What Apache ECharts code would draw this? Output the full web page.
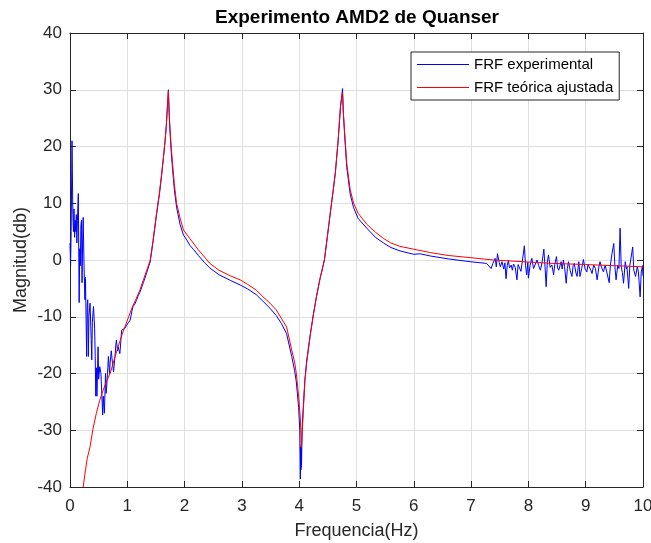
<!DOCTYPE html>
<html>
<head>
<meta charset="utf-8">
<script src="https://cdn.jsdelivr.net/npm/echarts@6/dist/echarts.min.js"></script>
<style>
  html, body { margin: 0; padding: 0; background: #fff; }
  #chart { width: 651px; height: 543px; }
</style>
</head>
<body>
<div id="chart"></div>
<script>
// frequency ticks and magnitude ticks
const xTicks = [0, 1, 2, 3, 4, 5, 6, 7, 8, 9, 10]
const yTicks = [-40, -30, -20, -10, 0, 10, 20, 30, 40]

// FRF experimental: [Hz, dB]
const expLow = [
  [0.00, 3], [0.01, -1], [0.02, 5], [0.035, 21], [0.05, 8], [0.06, 5], [0.07, 9], [0.08, 4],
  [0.09, 7], [0.10, 5], [0.11, 8], [0.12, 3], [0.13, 7], [0.145, 11.7], [0.16, -7.5], [0.17, 2],
  [0.18, -1], [0.19, 6], [0.20, 7], [0.21, -4], [0.22, 3], [0.23, 7.5], [0.245, -1], [0.26, -7],
  [0.27, -3], [0.29, -17], [0.30, -8], [0.31, -7], [0.32, -17], [0.33, -10], [0.35, -7.6],
  [0.37, -14], [0.38, -17.6], [0.39, -11], [0.41, -8.2], [0.43, -12], [0.44, -17], [0.45, -24],
  [0.46, -19], [0.47, -24], [0.49, -15.3], [0.50, -21], [0.52, -18.8], [0.54, -20], [0.55, -22.4],
  [0.57, -27.3], [0.58, -24], [0.60, -27], [0.62, -20], [0.63, -23.5], [0.64, -22.4], [0.66, -19],
  [0.67, -17], [0.69, -20], [0.70, -18.2], [0.72, -16], [0.74, -18], [0.76, -19.7], [0.785, -17],
  [0.80, -15], [0.81, -14.1], [0.83, -16], [0.84, -15.3], [0.87, -16.5], [0.89, -14], [0.90, -12.4],
  [0.93, -12.6], [0.96, -12], [0.99, -11.5], [1.02, -11], [1.05, -10.6], [1.08, -9], [1.10, -8.2],
  [1.13, -7.8], [1.16, -7.1], [1.19, -6.3]
]
const expMid = [
  [1.22, -5.7], [1.28, -4], [1.34, -2.2], [1.40, -0.3], [1.45, 3.3], [1.51, 8], [1.56, 11.5],
  [1.60, 15], [1.63, 18], [1.66, 21], [1.68, 23.5], [1.70, 27], [1.718, 30.0], [1.73, 26],
  [1.746, 22.5], [1.77, 18.5], [1.79, 16], [1.82, 12.5], [1.86, 9.3], [1.92, 6.3], [1.98, 4.4],
  [2.04, 3.5], [2.09, 2.6], [2.16, 1.8], [2.24, 0.8], [2.35, -0.5], [2.44, -1.4], [2.60, -2.6],
  [2.80, -3.6], [2.97, -4.4], [3.10, -5.1], [3.25, -6.1], [3.37, -7.3], [3.49, -8.5], [3.60, -9.8],
  [3.69, -11.2], [3.78, -13], [3.87, -17], [3.92, -19.5], [3.95, -21.5], [3.99, -26], [4.01, -30],
  [4.02, -38.6], [4.025, -33], [4.03, -37], [4.035, -32.5], [4.04, -36.5], [4.05, -30], [4.07, -26],
  [4.10, -21], [4.13, -17.8], [4.19, -13.3], [4.25, -9.4], [4.30, -6.5], [4.36, -3.4], [4.44, 0],
  [4.49, 4], [4.54, 8], [4.59, 12], [4.63, 15.3], [4.68, 21], [4.72, 27], [4.757, 30.2], [4.77, 26],
  [4.79, 22.5], [4.83, 16.3], [4.89, 11.6], [4.95, 9.2], [5.03, 7.3], [5.18, 5.6], [5.33, 4.0],
  [5.47, 3.0], [5.60, 2.2], [5.76, 1.6], [6.00, 1.0], [6.11, 1.1], [6.29, 0.7], [6.60, 0.2],
  [6.98, -0.3], [7.27, -0.6]
]
const expHigh = [
  [7.30, -0.7], [7.35, -1.5], [7.38, -0.6], [7.42, 0.3], [7.44, -1.2], [7.46, 1.1], [7.49, -0.4],
  [7.51, -1.2], [7.54, -0.3], [7.57, -1.6], [7.59, -0.5], [7.61, -3.3], [7.63, -1.0], [7.65, -0.1],
  [7.67, -1.4], [7.70, -0.9], [7.72, -1.8], [7.74, -0.7], [7.77, -1.3], [7.80, -3.5], [7.82, -0.8],
  [7.85, -0.6], [7.87, -2.0], [7.89, -0.5], [7.93, 2.5], [7.95, -1.0], [7.97, -2.6], [7.99, -0.4],
  [8.00, -3.2], [8.03, -0.9], [8.06, 0.3], [8.09, -1.5], [8.12, -1.2], [8.15, 0.0], [8.18, -1.0],
  [8.21, -1.8], [8.24, -0.3], [8.27, 1.9], [8.29, -1.2], [8.31, -4.7], [8.33, -0.4], [8.35, 0.9],
  [8.38, -1.3], [8.41, -0.9], [8.44, -2.6], [8.46, -0.8], [8.49, 0.6], [8.51, -1.4], [8.53, -1.8],
  [8.57, -0.3], [8.59, -1.6], [8.61, 0.0], [8.63, -1.1], [8.66, -4.1], [8.68, -1.5], [8.70, -0.3],
  [8.73, -1.9], [8.76, -2.9], [8.78, -1.0], [8.80, -0.6], [8.83, -2.3], [8.85, -2.9], [8.88, -0.3],
  [8.90, -2.9], [8.93, -1.5], [8.96, 0.1], [8.99, -1.6], [9.02, -2.1], [9.04, -0.8], [9.06, -1.2],
  [9.09, -1.8], [9.11, -2.4], [9.14, -0.9], [9.17, -1.5], [9.20, -3.5], [9.23, -1.2], [9.25, -0.3],
  [9.28, -1.4], [9.31, -2.1], [9.34, -0.9], [9.37, -1.2], [9.41, -4.0], [9.43, -1.0], [9.46, 1.2],
  [9.49, 2.9], [9.51, -1.2], [9.53, -3.5], [9.56, -0.9], [9.58, -1.5], [9.60, 5.6], [9.62, -1.2],
  [9.64, -2.2], [9.66, -4.1], [9.69, -0.3], [9.71, -1.6], [9.72, -1.2], [9.75, -5.0], [9.77, -1.0],
  [9.80, -0.9], [9.82, 2.3], [9.84, -1.8], [9.87, -2.9], [9.90, -1.2], [9.92, -2.1], [9.95, -6.5],
  [9.97, -2.1], [9.99, -1.0], [10.0, -2.8]
]

// FRF teorica ajustada: [Hz, dB]
const fitted = [
  [0.23, -40], [0.27, -37], [0.30, -35], [0.35, -32.9], [0.40, -29.8], [0.46, -27], [0.52, -24.7],
  [0.58, -22.9], [0.64, -21.3], [0.70, -20], [0.77, -17.6], [0.84, -15.3], [0.91, -13.1],
  [0.99, -10.9], [1.05, -9.3], [1.10, -8], [1.16, -6.7], [1.22, -5.3], [1.28, -3.5], [1.34, -1.8],
  [1.40, 0], [1.45, 3.5], [1.51, 8.2], [1.56, 11.8], [1.60, 15.3], [1.63, 18], [1.66, 21.2],
  [1.68, 23.5], [1.70, 27], [1.716, 29.8], [1.73, 26], [1.746, 23], [1.77, 19.5], [1.79, 17],
  [1.82, 13.5], [1.86, 10], [1.92, 7.4], [1.98, 5.3], [2.09, 3.8], [2.24, 1.8], [2.35, 0.5],
  [2.44, -0.6], [2.60, -1.8], [2.80, -2.8], [2.97, -3.5], [3.10, -4.3], [3.25, -5.3], [3.37, -6.5],
  [3.49, -7.6], [3.60, -8.8], [3.69, -10.3], [3.78, -11.8], [3.87, -15.9], [3.92, -18], [3.95, -20],
  [3.99, -24], [4.02, -28], [4.04, -33], [4.07, -27], [4.10, -21.2], [4.13, -18.2], [4.19, -13.5],
  [4.25, -9.5], [4.30, -6.6], [4.36, -3.5], [4.44, 0], [4.49, 4], [4.54, 8.2], [4.59, 12],
  [4.63, 15.3], [4.68, 21.2], [4.72, 27], [4.755, 29.5], [4.77, 26], [4.79, 23], [4.83, 17],
  [4.89, 12.4], [4.95, 10], [5.03, 8.2], [5.18, 6.3], [5.33, 4.9], [5.47, 3.8], [5.60, 3.0],
  [5.76, 2.4], [6.00, 1.9], [6.29, 1.3], [6.60, 0.8], [7.00, 0.4], [7.39, 0.0], [7.90, -0.3],
  [8.43, -0.6], [9.00, -0.8], [9.50, -1.0], [10.0, -1.2]
]

const experimental = expLow.concat(expMid, expHigh)

const font = 'Arial, "Liberation Sans", Helvetica, sans-serif'
const axisColor = '#262626'
const gridColor = '#dfdfdf'
// plain line for the legend, no marker
const lineIcon = 'path://M0,0 L52,0 L52,1 L0,1 Z'

const chart = echarts.init(document.getElementById('chart'), null, { renderer: 'canvas' })

const baseX = {
  type: 'value',
  min: xTicks[0],
  max: xTicks[xTicks.length - 1],
  interval: 1,
  axisLine: { show: true, onZero: false, lineStyle: { color: axisColor, width: 1 } },
  axisTick: { show: true, inside: true, length: 6, lineStyle: { color: axisColor } }
}
const baseY = {
  type: 'value',
  min: yTicks[0],
  max: yTicks[yTicks.length - 1],
  interval: 10,
  axisLine: { show: true, onZero: false, lineStyle: { color: axisColor, width: 1 } },
  axisTick: { show: true, inside: true, length: 6, lineStyle: { color: axisColor } }
}

chart.setOption({
  animation: false,
  backgroundColor: '#fff',
  title: {
    text: 'Experimento AMD2 de Quanser',
    left: 215,
    top: 8,
    padding: 0,
    textStyle: { fontFamily: font, fontSize: 19, fontWeight: 'bold', color: '#000' }
  },
  grid: { left: 70, right: 8, top: 33, bottom: 56, containLabel: false, outerBoundsMode: 'none' },
  legend: {
    data: [
      { name: 'FRF experimental', icon: lineIcon, itemStyle: { color: '#0000ff' } },
      { name: 'FRF teórica ajustada', icon: lineIcon, itemStyle: { color: '#ff0000' } }
    ],
    orient: 'vertical',
    left: 411,
    top: 52,
    padding: [5, 6, 5, 6],
    itemWidth: 52,
    itemHeight: 14,
    itemGap: 8,
    borderColor: axisColor,
    borderWidth: 1,
    borderRadius: 0,
    backgroundColor: '#fff',
    textStyle: { fontFamily: font, fontSize: 15, color: '#000' }
  },
  xAxis: [
    Object.assign({}, baseX, {
      position: 'bottom',
      name: 'Frequencia(Hz)',
      nameLocation: 'middle',
      nameGap: 35,
      nameMoveOverlap: false,
      nameTextStyle: { fontFamily: font, fontSize: 18, color: axisColor },
      axisLabel: { fontFamily: font, fontSize: 17, color: axisColor, margin: 11 },
      splitLine: { show: true, lineStyle: { color: gridColor, width: 1 } }
    }),
    Object.assign({}, baseX, {
      position: 'top',
      axisLabel: { show: false },
      splitLine: { show: false }
    })
  ],
  yAxis: [
    Object.assign({}, baseY, {
      position: 'left',
      name: 'Magnitud(db)',
      nameLocation: 'middle',
      nameGap: 40,
      nameMoveOverlap: false,
      nameTextStyle: { fontFamily: font, fontSize: 18, color: axisColor },
      axisLabel: { fontFamily: font, fontSize: 17, color: axisColor, margin: 8 },
      splitLine: { show: true, lineStyle: { color: gridColor, width: 1 } }
    }),
    Object.assign({}, baseY, {
      position: 'right',
      axisLabel: { show: false },
      splitLine: { show: false }
    })
  ],
  series: [
    {
      name: 'FRF experimental',
      type: 'line',
      data: experimental,
      symbol: 'none',
      clip: true,
      lineStyle: { color: '#0000ff', width: 1 },
      itemStyle: { color: '#0000ff' }
    },
    {
      name: 'FRF teórica ajustada',
      type: 'line',
      data: fitted,
      symbol: 'none',
      clip: true,
      lineStyle: { color: '#ff0000', width: 1 },
      itemStyle: { color: '#ff0000' }
    }
  ]
})
</script>
</body>
</html>
